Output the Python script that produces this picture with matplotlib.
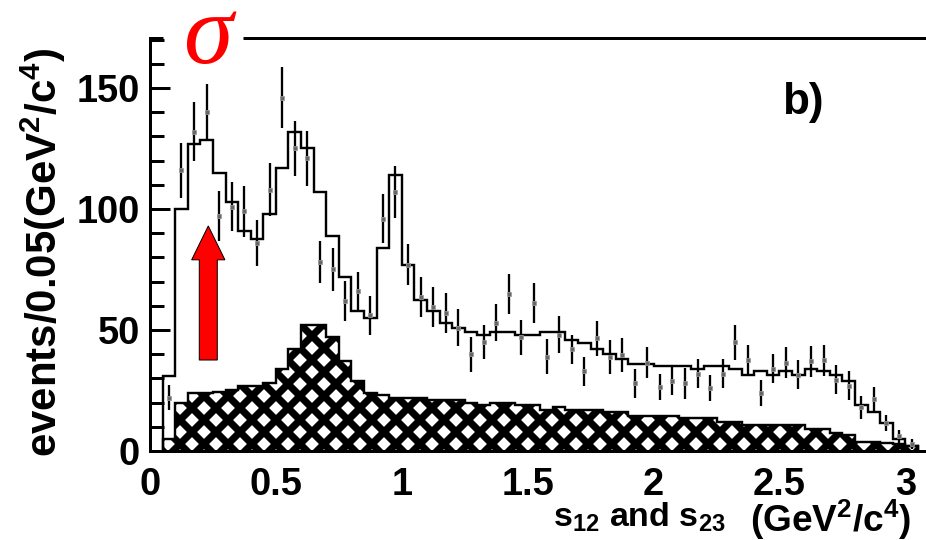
import numpy as np
import matplotlib
matplotlib.use('Agg')
from matplotlib import pyplot as plt
from matplotlib.patches import FancyArrow

plt.rcParams['font.family'] = ['Liberation Sans', 'DejaVu Sans']
plt.rcParams['font.weight'] = 'bold'
plt.rcParams['mathtext.default'] = 'regular'
plt.rcParams['hatch.linewidth'] = 3.6

# binning : 0.05 GeV^2/c^4 from 0.05 to 3.05
edges = np.round(np.arange(0.05, 3.0501, 0.05), 3)
centres = (edges[:-1] + edges[1:]) / 2

# total fit (solid histogram)
fit = [31, 100, 127, 128.5, 115, 103, 91, 87.5, 98, 117,
       132, 125, 107, 89, 72, 58, 55, 84, 114, 77,
       62.5, 58, 53, 51, 49, 48, 49, 49, 48, 48,
       49, 49, 46, 44.5, 42, 40, 38, 36, 36, 35,
       35, 35, 34, 35, 35, 34, 31.5, 33, 31.5, 33,
       31.5, 34, 33, 31.5, 29, 19, 16, 11.5, 5, 2]

# background contribution (hatched)
bkg = [5, 20, 24, 24, 24.5, 25, 27, 27, 28, 34,
       42, 52, 52, 47, 37, 29, 24, 23, 22, 22,
       22, 21, 21, 21, 20, 19, 20, 20, 19, 19,
       17, 18, 17, 17, 17, 16, 16, 14.5, 14.5, 14.5,
       14.5, 13.5, 13.5, 13.5, 12, 12, 10.7, 10.7, 10.7, 10.7,
       10.7, 9, 9, 7.6, 6.6, 3.8, 3.8, 3.2, 2.7, 2]

# data points and errors
data = [22, 116, 132, 140, 97, 101, 99, 86, 108, 146,
        125, 121, 78, 75, 62, 66, 56, 96, 107, 77,
        63.5, 59.5, 57, 51, 40, 45, 53, 65, 47, 61,
        39, 48, 42, 33, 46.5, 39, 39.5, 28, 36.5, 26.5,
        29, 28, 32, 26, 32, 45, 37.5, 24, 34, 36.5,
        31.5, 37, 37.5, 29.5, 27, 18, 21.5, 11.5, 6, 3]
err = [5.2, 11.4, 12.1, 11.6, 10.3, 10, 10.4, 9.6, 11, 12.6,
       11.4, 11.4, 8.7, 8.7, 8.1, 8.1, 7.9, 10, 10.7, 8.6,
       8.3, 8.3, 8.3, 7.6, 7.2, 7.1, 7.6, 8.3, 7.2, 8.3,
       7.1, 7.7, 6.1, 6, 7.1, 7, 7, 5.9, 6.5, 5.4,
       5.9, 6.4, 5.9, 5.5, 5.9, 7.2, 6.2, 5.4, 5.9, 6.4,
       5.9, 6.4, 6.4, 5.9, 5.9, 4.8, 4.8, 3.4, 2.8, 2]

xticks = [0, 0.5, 1, 1.5, 2, 2.5, 3]
xticklabels = ['0', '0.5', '1', '1.5', '2', '2.5', '3']
yticks = [0, 50, 100, 150]

fig = plt.figure(figsize=(926 / 144, 540 / 144), dpi=144)
ax = fig.add_axes([150 / 926, 89 / 540, 776 / 926, 413 / 540])
ax.set_xlim(0, 3.082)
ax.set_ylim(0, 170.66)

ax.stairs(bkg, edges, fill=True, facecolor='white', edgecolor='black',
          hatch='xx', linewidth=1.2, zorder=1)
ax.stairs(fit, edges, color='black', linewidth=1.2, zorder=2)
ax.errorbar(centres, data, yerr=err, fmt='none', ecolor='black',
            elinewidth=1.15, capsize=0, zorder=3)
ax.plot(centres, data, 's', ms=2.2, color='0.4', mec='0.6', mew=0.4, zorder=4)

# sigma arrow
ax.add_patch(FancyArrow(0.2315, 37.6, 0, 55.4, width=0.0715, head_width=0.132,
                        head_length=14, length_includes_head=True,
                        facecolor='red', edgecolor='black', linewidth=0.5,
                        zorder=5))

ax.text(2.51, 144, 'b)', fontsize=22, fontweight='bold', va='center', ha='left')

# frame: top line interrupted by the sigma label
for s in ['top', 'right']:
    ax.spines[s].set_visible(False)
for s in ['left', 'bottom']:
    ax.spines[s].set_linewidth(1.5)
ytop = 170.66
ax.hlines(ytop, 0, 0.052, color='black', lw=1.5, clip_on=False)
ax.hlines(ytop, 0.369, 3.1, color='black', lw=1.5, clip_on=False)
ax.text(0.228, 160.5, 'σ', color='red', fontsize=50, family='Liberation Serif',
        style='italic', fontweight='normal', ha='center', va='baseline',
        clip_on=False)

ax.set_yticks(yticks)
ax.set_yticks(np.arange(0, 171, 10), minor=True)
ax.tick_params(axis='y', which='major', direction='in', length=10, width=1.5,
               labelsize=19, pad=5)
ax.tick_params(axis='y', which='minor', direction='in', length=7, width=1.5)
ax.set_xticks(xticks)
ax.set_xticklabels(xticklabels)
ax.tick_params(axis='x', which='both', length=0, labelsize=19, pad=8)

fig.text(43 / 926, 1 - 252 / 540, 'events/0.05(GeV$^2$/c$^4$)', rotation=90,
         fontsize=21, fontweight='bold', ha='center', va='center')
fig.text(553 / 926, 1 - 527 / 540, 's$_{12}$ and s$_{23}$', fontsize=17,
         fontweight='bold', ha='left', va='baseline')
fig.text(750 / 926, 1 - 532 / 540, '(GeV$^2$/c$^4$)', fontsize=18.5,
         fontweight='bold', ha='left', va='baseline')

fig.savefig('out.png', dpi=144)
